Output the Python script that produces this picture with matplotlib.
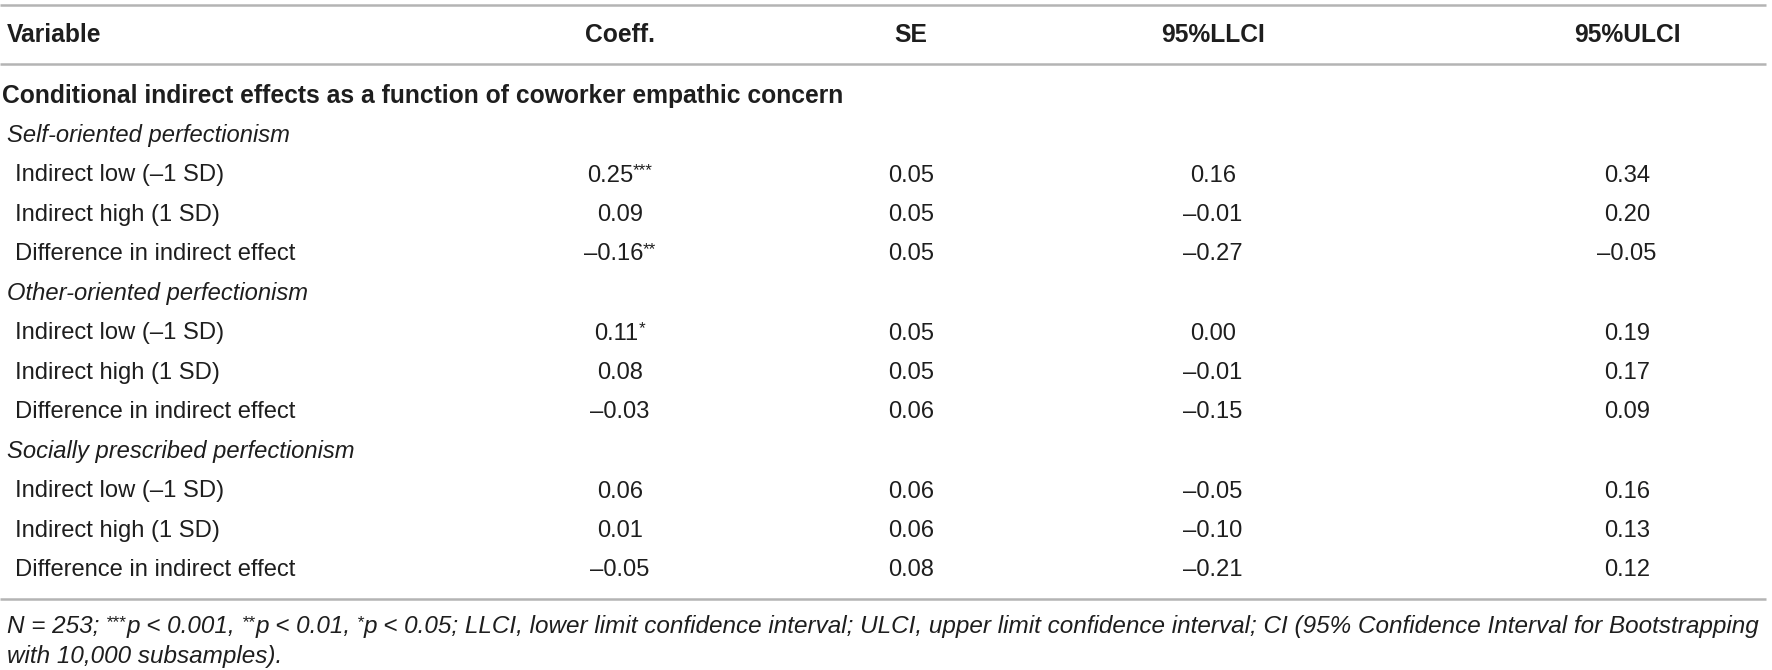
import matplotlib
matplotlib.use("Agg")
import matplotlib.pyplot as plt

W, H = 1772, 670

columns = ["Variable", "Coeff.", "SE", "95%LLCI", "95%ULCI"]
section_title = "Conditional indirect effects as a function of coworker empathic concern"
groups = ["Self-oriented perfectionism", "Other-oriented perfectionism", "Socially prescribed perfectionism"]
row_labels = ["Indirect low (\u20131 SD)", "Indirect high (1 SD)", "Difference in indirect effect"]

coeff = [[0.25, 0.09, -0.16], [0.11, 0.08, -0.03], [0.06, 0.01, -0.05]]
coeff_stars = [["***", "", "**"], ["*", "", ""], ["", "", ""]]
se = [[0.05, 0.05, 0.05], [0.05, 0.05, 0.06], [0.06, 0.06, 0.08]]
llci = [[0.16, -0.01, -0.27], [0.00, -0.01, -0.15], [-0.05, -0.10, -0.21]]
ulci = [[0.34, 0.20, -0.05], [0.19, 0.17, 0.09], [0.16, 0.13, 0.12]]

# footnote pieces: (text, superscript?)
footnote_1 = [("N = 253;", False), (" ", False), ("***", True), ("p < 0.001,", False), (" ", False),
              ("**", True), ("p < 0.01,", False), (" ", False), ("*", True),
              ("p < 0.05; LLCI, lower limit confidence interval; ULCI, upper limit confidence interval; "
               "CI (95% Confidence Interval for Bootstrapping", False)]
footnote_2 = "with 10,000 subsamples)."

FONT = "Liberation Sans"
FS = 17.1
FS_BOLD = 17.7
SUP_SCALE = 0.72
SUP_RAISE = 0.36
TXT = "#1e1e1e"
LINE = "#b4b4b4"

col_x = [7, 620, 911, 1213, 1627]
y_top, y_head, y_rule, y_bottom = 5, 34, 64, 599
row0, row_step = 94, 39.5
foot_y = [625, 655]
foot_left, foot_right = 7, 1765
base_off = 8.5  # baseline below visual centre


def fmt(v):
    s = f"{v:.2f}"
    return s.replace("-", "\u2013")


fig = plt.figure(figsize=(W / 100, H / 100), dpi=100)
ax = fig.add_axes([0, 0, 1, 1])
ax.set_xlim(0, W)
ax.set_ylim(H, 0)
ax.axis("off")
renderer = fig.canvas.get_renderer()


def measure(text, **kw):
    t = ax.text(0, 0, text + "|", **kw)
    w1 = t.get_window_extent(renderer).width
    t.set_text("|")
    w2 = t.get_window_extent(renderer).width
    t.remove()
    return w1 - w2


def run_widths(parts, style, size):
    main = dict(fontfamily=FONT, fontsize=size, fontstyle=style, color=TXT)
    sup = dict(main, fontsize=size * SUP_SCALE)
    return [measure(t, **(sup if s else main)) for t, s in parts], main, sup


def runs(x, y, parts, ha="left", style="normal", size=FS):
    widths, main, sup = run_widths(parts, style, size)
    if ha == "center":
        x = x - sum(widths) / 2
    for (t, s), w in zip(parts, widths):
        if s:
            ax.text(x, y - size * SUP_RAISE, t, va="baseline", ha="left", **sup)
        else:
            ax.text(x, y, t, va="baseline", ha="left", **main)
        x += w


# rules
for yy in (y_top, y_rule, y_bottom):
    ax.plot([0, 1766], [yy, yy], color=LINE, lw=1.8, solid_capstyle="butt")

# header
for i, name in enumerate(columns):
    ax.text(col_x[i], y_head + base_off, name, ha="left" if i == 0 else "center", va="baseline",
            fontfamily=FONT, fontsize=FS_BOLD, fontweight="bold", color=TXT)

y = row0
ax.text(2, y + base_off, section_title, ha="left", va="baseline",
        fontfamily=FONT, fontsize=FS_BOLD, fontweight="bold", color=TXT)

for g, group in enumerate(groups):
    y += row_step
    ax.text(7, y + base_off, group, ha="left", va="baseline", fontfamily=FONT, fontsize=FS,
            fontstyle="italic", color=TXT)
    for r, label in enumerate(row_labels):
        y += row_step
        yb = y + base_off
        ax.text(15, yb, label, ha="left", va="baseline", fontfamily=FONT, fontsize=FS, color=TXT)
        runs(col_x[1], yb, [(fmt(coeff[g][r]), False), (coeff_stars[g][r], True)], ha="center")
        for c, vals in zip(col_x[2:], (se, llci, ulci)):
            ax.text(c, yb, fmt(vals[g][r]), ha="center", va="baseline", fontfamily=FONT,
                    fontsize=FS, color=TXT)

# footnote: first line spans the full table width (justified in the source)
natural = sum(run_widths(footnote_1, "italic", FS)[0])
fs_foot = FS * (foot_right - foot_left) / natural
runs(foot_left, foot_y[0] + base_off, footnote_1, style="italic", size=fs_foot)
ax.text(foot_left, foot_y[1] + base_off, footnote_2, ha="left", va="baseline", fontfamily=FONT,
        fontsize=fs_foot, fontstyle="italic", color=TXT)

fig.savefig("out.png", dpi=100)
